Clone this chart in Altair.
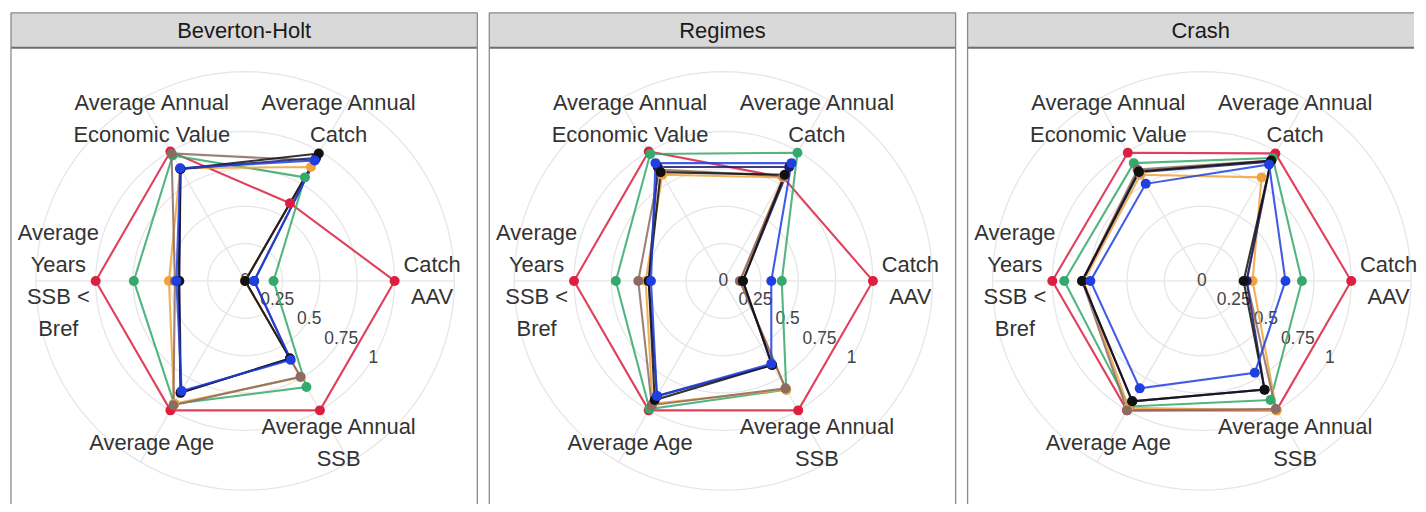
import math
import altair as alt
import pandas as pd

# ---------------- data ----------------
PANELS = ["Beverton-Holt", "Regimes", "Crash"]
AXIS_NAMES = ["Catch AAV", "Average Annual Catch", "Average Annual Economic Value",
              "Average Years SSB < Bref", "Average Age", "Average Annual SSB"]
AXIS_LABELS = ["Catch\nAAV", "Average Annual\nCatch", "Average Annual\nEconomic Value",
               "Average\nYears\nSSB <\nBref", "Average Age", "Average Annual\nSSB"]
SERIES = ["MP1", "MP2", "MP3", "MP4", "MP5", "MP6", "MP7"]
COLORS = ["#DC1F40", "#35A86B", "#F0A23C", "#8C6B62", "#1C1C6B", "#111111", "#1F3FE0"]
TICK_VALUES = [0, 0.25, 0.5, 0.75, 1]
TICK_LABELS = ["0", "0.25", "0.5", "0.75", "1"]
GRID_LEVELS = [0.25, 0.5, 0.75, 1.0, 1.4]

# values per axis, order as AXIS_NAMES
BH_MP1 = [1.00, 0.60, 1.00, 1.00, 1.00, 1.00]
BH_MP2 = [0.19, 0.80, 0.97, 0.745, 0.95, 0.82]
BH_MP3 = [0.00, 0.88, 0.87, 0.51, 0.95, 0.745]
BH_MP4 = [0.00, 0.93, 0.985, 0.47, 0.96, 0.74]
BH_MP5 = [0.06, 0.95, 0.865, 0.44, 0.86, 0.60]
BH_MP6 = [0.00, 0.985, 0.865, 0.445, 0.865, 0.60]
BH_MP7 = [0.06, 0.93, 0.87, 0.46, 0.85, 0.61]

RG_MP1 = [1.00, 0.80, 1.00, 1.00, 1.00, 1.00]
RG_MP2 = [0.39, 0.99, 0.98, 0.72, 0.99, 0.84]
RG_MP3 = [0.11, 0.80, 0.82, 0.52, 0.95, 0.84]
RG_MP4 = [0.11, 0.81, 0.86, 0.57, 0.96, 0.83]
RG_MP5 = [0.13, 0.88, 0.88, 0.50, 0.89, 0.65]
RG_MP6 = [0.13, 0.82, 0.84, 0.50, 0.92, 0.65]
RG_MP7 = [0.32, 0.91, 0.91, 0.485, 0.89, 0.64]

CR_MP1 = [1.00, 0.985, 0.99, 1.00, 1.00, 1.00]
CR_MP2 = [0.67, 0.95, 0.91, 0.92, 0.97, 0.92]
CR_MP3 = [0.34, 0.80, 0.82, 0.79, 0.98, 1.00]
CR_MP4 = [0.30, 0.93, 0.86, 0.80, 1.00, 0.99]
CR_MP5 = [0.30, 0.92, 0.84, 0.80, 0.93, 0.84]
CR_MP6 = [0.28, 0.93, 0.845, 0.80, 0.93, 0.84]
CR_MP7 = [0.56, 0.90, 0.75, 0.745, 0.83, 0.71]

PANEL_VALUES = {
    "Beverton-Holt": [BH_MP1, BH_MP2, BH_MP3, BH_MP4, BH_MP5, BH_MP6, BH_MP7],
    "Regimes": [RG_MP1, RG_MP2, RG_MP3, RG_MP4, RG_MP5, RG_MP6, RG_MP7],
    "Crash": [CR_MP1, CR_MP2, CR_MP3, CR_MP4, CR_MP5, CR_MP6, CR_MP7],
}

rows = []
for p in PANELS:
    for s_i, (s, vals) in enumerate(zip(SERIES, PANEL_VALUES[p])):
        for k, v in enumerate(vals):
            rows.append({"panel": p, "series": s, "s": s_i, "k": k, "v": v})
df = pd.DataFrame(rows)

axes_df = pd.DataFrame({"k": list(range(6)), "name": AXIS_NAMES, "label": AXIS_LABELS})
ticks_df = pd.DataFrame({"v": TICK_VALUES, "label": TICK_LABELS})
ring_rows = []
for lvl in GRID_LEVELS:
    for deg in range(0, 361, 3):
        ring_rows.append({"level": lvl, "deg": deg})
rings_df = pd.DataFrame(ring_rows)
one = pd.DataFrame({"a": [0]})

# ---------------- layout ----------------
R = 150.0      # pixels per unit value
CX = 235.0     # radar centre within panel
CY = 269.0
H = 493
HEAD = 35
LH = 32        # label line height (px)
FONT = "Liberation Sans"
GRID_COL = "#e6e6e6"
FRAME_COL = "#8a8a8a"


def panel(name, width, last):
    xs = alt.Scale(domain=[-CX / R, (width - CX) / R], nice=False, zero=False)
    ys = alt.Scale(domain=[-(H - CY) / R, CY / R], nice=False, zero=False)
    X = lambda f: alt.X(f, type="quantitative", scale=xs, axis=None)
    Y = lambda f: alt.Y(f, type="quantitative", scale=ys, axis=None)

    rings = alt.Chart(rings_df).transform_calculate(
        x="datum.level * cos(datum.deg * PI / 180)",
        y="datum.level * sin(datum.deg * PI / 180)",
    ).mark_line(color=GRID_COL, strokeWidth=1.3).encode(
        x=X("x"), y=Y("y"), detail="level:N", order="deg:Q")

    spokes = alt.Chart(axes_df).transform_calculate(
        x0="0", y0="0",
        x1="1.4 * cos(datum.k * PI / 3)",
        y1="1.4 * sin(datum.k * PI / 3)",
    ).mark_rule(color=GRID_COL, strokeWidth=1.3).encode(
        x=X("x0"), y=Y("y0"), x2="x1:Q", y2="y1:Q")

    ticks = alt.Chart(ticks_df).transform_calculate(
        x="datum.v * cos(-31 * PI / 180)",
        y="datum.v * sin(-31 * PI / 180)",
    ).mark_text(font=FONT, fontSize=17.5, color="#444444", align="center",
                baseline="middle").encode(x=X("x"), y=Y("y"), text="label:N")

    labels = alt.Chart(axes_df).transform_calculate(
        n="length(split(datum.label, '\\n'))",
    ).transform_calculate(
        x="1.25 * cos(datum.k * PI / 3)",
        y=f"1.25 * sin(datum.k * PI / 3) + (datum.n - 1) / 2 * {LH / R}",
    ).mark_text(font=FONT, fontSize=22, lineHeight=LH, lineBreak="\n",
                color="#333333", align="center", baseline="middle").encode(
        x=X("x"), y=Y("y"), text="label:N")

    pdata = df[df["panel"] == name]
    base = alt.Chart(pdata).transform_calculate(
        x="datum.v * cos(datum.k * PI / 3)",
        y="datum.v * sin(datum.k * PI / 3)",
    )
    color = alt.Color("series:N", scale=alt.Scale(domain=SERIES, range=COLORS), legend=None)
    lines = base.mark_line(interpolate="linear-closed", strokeWidth=2.1, opacity=0.85).encode(
        x=X("x"), y=Y("y"), color=color, order="k:Q")
    points = base.mark_circle(size=100, opacity=1).encode(
        x=X("x"), y=Y("y"), color=color, order="s:Q")

    head = alt.Chart(one).mark_rect(color="#d9d9d9").encode(
        x=alt.value(0), x2=alt.value(width), y=alt.value(0), y2=alt.value(HEAD))
    title = alt.Chart(one).mark_text(text=name, font=FONT, fontSize=22, color="#1a1a1a",
                                     align="center", baseline="middle").encode(
        x=alt.value(CX - 1), y=alt.value(HEAD / 2 + 1))
    top = alt.Chart(one).mark_rule(color=FRAME_COL, strokeWidth=1.3).encode(
        x=alt.value(0), x2=alt.value(width), y=alt.value(0))
    hbot = alt.Chart(one).mark_rule(color="#6e6e6e", strokeWidth=2).encode(
        x=alt.value(0), x2=alt.value(width), y=alt.value(HEAD))
    left = alt.Chart(one).mark_rule(color=FRAME_COL, strokeWidth=1.3).encode(
        x=alt.value(0), y=alt.value(0), y2=alt.value(H))
    layers = [rings, spokes, ticks, labels, lines, points, head, title, top, hbot, left]
    if not last:
        right = alt.Chart(one).mark_rule(color=FRAME_COL, strokeWidth=1.3).encode(
            x=alt.value(width), y=alt.value(0), y2=alt.value(H))
        layers.append(right)
    return alt.layer(*layers).properties(width=width, height=H)


chart = alt.hconcat(
    panel(PANELS[0], 468, False),
    panel(PANELS[1], 468, False),
    panel(PANELS[2], 448, True),
    spacing=10,
).resolve_scale(x="independent", y="independent").properties(
    padding={"left": 2, "top": 3, "right": 0, "bottom": 0}
).configure_view(stroke=None)

chart.save("out.html", embed_options={"renderer": "svg", "actions": False})
